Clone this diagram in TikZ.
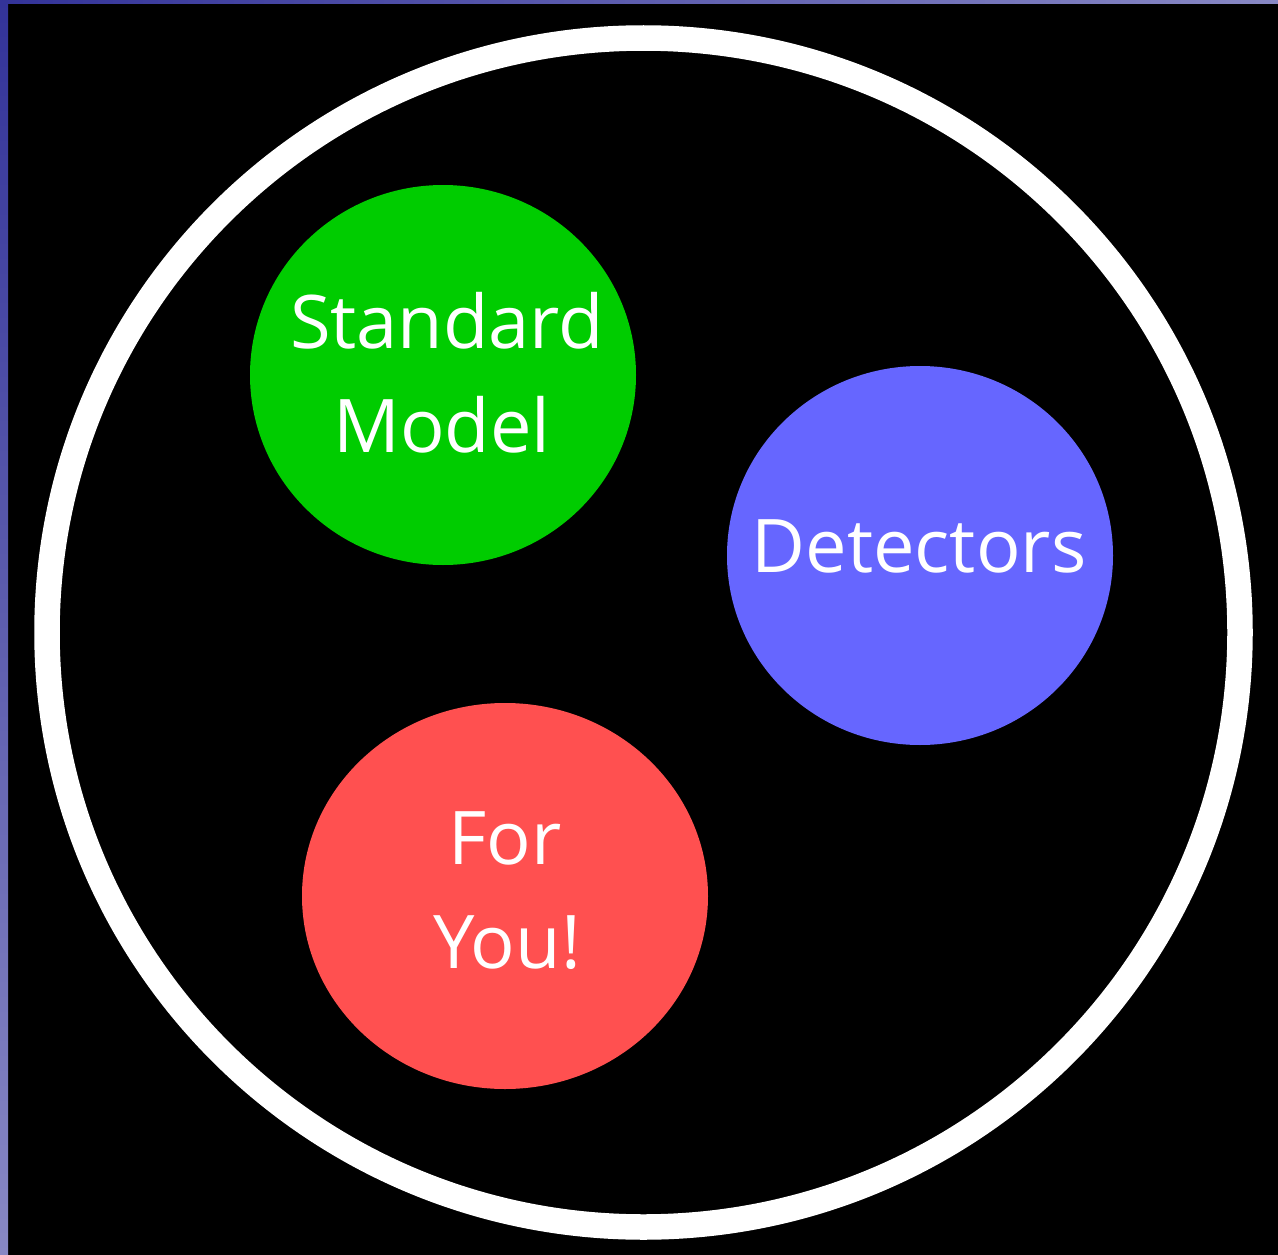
\documentclass[tikz,border=0pt]{standalone}
\usepackage{fontspec}
\setmainfont{Open Sans}
\usetikzlibrary{shapes.geometric}
\definecolor{smgreen}{RGB}{0,204,0}
\definecolor{detblue}{RGB}{102,102,255}
\definecolor{youred}{RGB}{255,80,80}
\definecolor{edgedark}{RGB}{51,51,153}
\definecolor{edgelight}{RGB}{136,136,196}
\tikzset{
  disc/.style={ellipse, draw=none, inner sep=0pt},
  lbl/.style={text=white, inner sep=0pt, anchor=base, font=\fontsize{74}{88}\selectfont},
  ring/.style={draw=white, line width=25.5pt}
}
\begin{document}
\begin{tikzpicture}[x=1pt,y=-1pt]
\useasboundingbox (0,0) rectangle (1278,1255);
\fill[black] (0,0) rectangle (1278,1255);
% edge strips
\shade[top color=edgedark, bottom color=edgelight] (0,0) rectangle (8,1255);
\shade[left color=edgedark, right color=edgelight] (0,0) rectangle (1278,4);
% outer ring
\node[disc, ring, minimum width=1193pt, minimum height=1189pt] (outer) at (643.5,632.5) {};
% circles
\node[disc, fill=smgreen, minimum width=386pt, minimum height=380pt] (sm) at (443,375) {};
\node[disc, fill=detblue, minimum width=386pt, minimum height=379pt] (det) at (920,555.5) {};
\node[disc, fill=youred, minimum width=406pt, minimum height=386pt] (you) at (505,896) {};
% labels
\node[lbl] (sm1) at (447,348) {Standard};
\node[lbl] (sm2) at (442,452) {Model};
\node[lbl] (det1) at (919,572) {Detectors};
\node[lbl] (you1) at (505,864) {For};
\node[lbl] (you2) at (507,968) {You!};
\end{tikzpicture}
\end{document}
